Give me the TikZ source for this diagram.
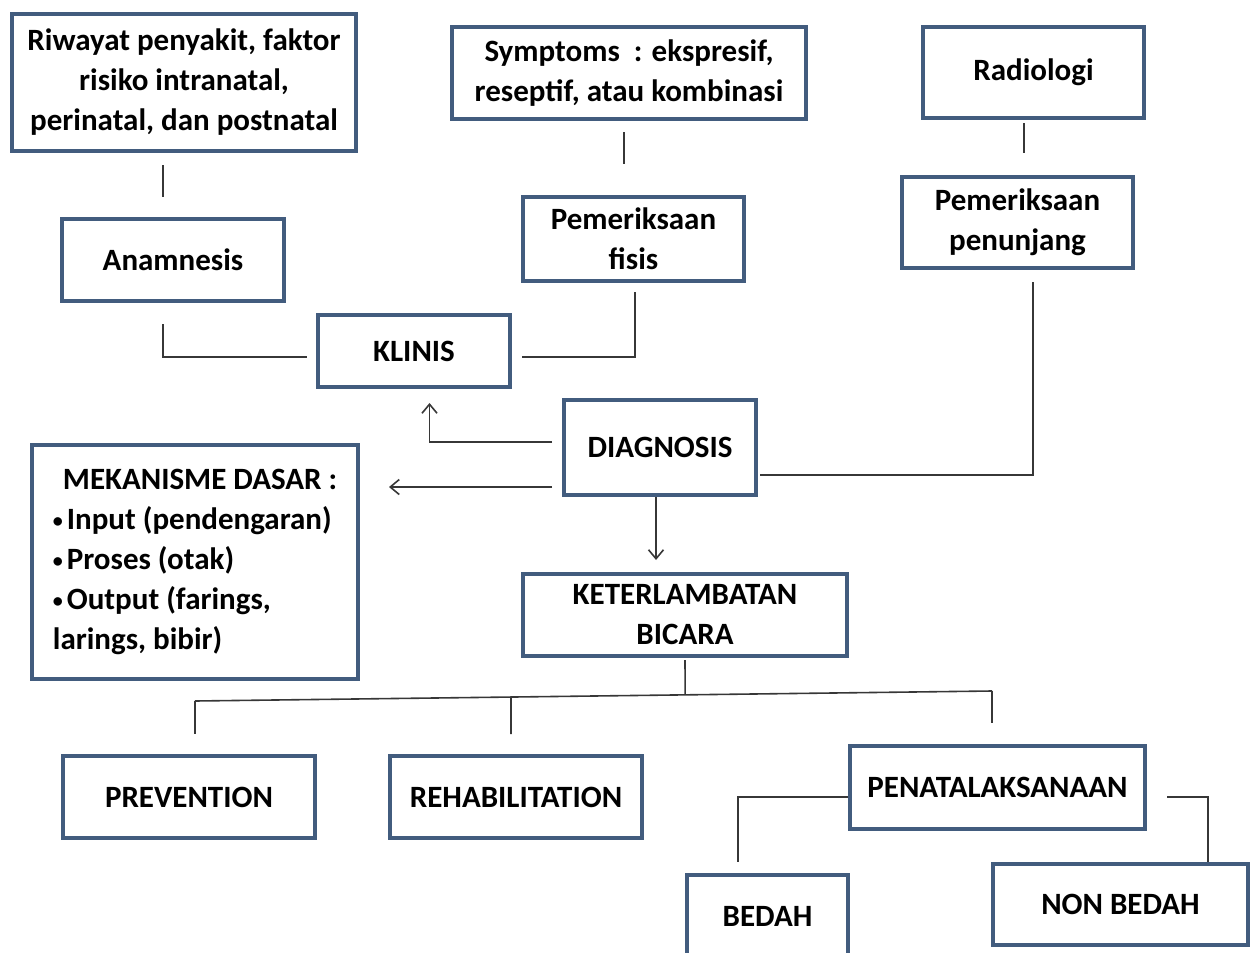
\documentclass[tikz,border=0pt]{standalone}
\usepackage{fontspec}
\setmainfont{Carlito}
\usetikzlibrary{arrows.meta,calc}
\definecolor{kotakbiru}{RGB}{66,92,126}
\definecolor{garisabu}{RGB}{55,55,55}
\newcommand{\titik}{{\fontsize{20}{40}\selectfont\raisebox{2pt}{•}}\hspace{4pt}}
\tikzset{
  kotak/.style={draw=kotakbiru, line width=4pt, fill=white, align=center, inner sep=4pt,
    font=\fontsize{31}{40}\selectfont\bfseries},
  garis/.style={draw=garisabu, line width=1.6pt},
  panah/.style={garis, -{Straight Barb[length=9pt,width=15pt]}}
}
\begin{document}
\begin{tikzpicture}[x=1pt, y=-1pt]
            \useasboundingbox (0,0) rectangle (1253,953);

            \node[kotak, minimum width=344pt, minimum height=137pt] (riwayat) at (184,82.5) {Riwayat penyakit, faktor\\risiko intranatal,\\perinatal, dan postnatal};
            \node[kotak, minimum width=354pt, minimum height=92pt] (symptoms) at (629,73) {Symptoms\ \ : ekspresif,\\reseptif, atau kombinasi};
            \node[kotak, minimum width=221pt, minimum height=91pt] (radiologi) at (1033.5,72.5) {Radiologi};

            \node[kotak, minimum width=222pt, minimum height=82pt] (anamnesis) at (173,260) {Anamnesis};
            \node[kotak, minimum width=221pt, minimum height=84pt] (fisis) at (633.5,239) {Pemeriksaan\\fisis};
            \node[kotak, minimum width=231pt, minimum height=91pt] (penunjang) at (1017.5,222.5) {Pemeriksaan\\penunjang};

            \node[kotak, minimum width=192pt, minimum height=72pt] (klinis) at (414,351) {KLINIS};
            \node[kotak, minimum width=192pt, minimum height=95pt] (diagnosis) at (660,447.5) {DIAGNOSIS};
            \node[kotak, align=left, minimum width=326pt, minimum height=234pt] (mekanisme) at (195,562) {\hspace*{10pt}MEKANISME DASAR :\\\titik Input (pendengaran)\\\titik Proses (otak)\\\titik Output (farings,\\larings, bibir)};
            \node[kotak, minimum width=324pt, minimum height=82pt] (keterlambatan) at (685,615) {KETERLAMBATAN\\BICARA};

            \node[kotak, minimum width=252pt, minimum height=82pt] (prevention) at (189,797) {PREVENTION};
            \node[kotak, minimum width=252pt, minimum height=82pt] (rehabilitation) at (516,797) {REHABILITATION};
            \node[kotak, minimum width=295pt, minimum height=83pt] (penatalaksanaan) at (997.5,787.5) {PENATALAKSANAAN};
            \node[kotak, minimum width=161pt, minimum height=83pt] (bedah) at (767.5,916.5) {BEDAH};
            \node[kotak, minimum width=255pt, minimum height=81pt] (nonbedah) at (1120.5,904.5) {NON BEDAH};

            % garis atas
            \draw[garis, shorten <=12pt, shorten >=20pt] ([xshift=-21pt]riwayat.south) -- ([xshift=-10pt]anamnesis.north);
            \draw[garis, shorten <=11pt, shorten >=31pt] ([xshift=-5pt]symptoms.south) -- ([xshift=-9.5pt]fisis.north);
            \draw[garis, shorten <=3pt, shorten >=22pt] ([xshift=-9.5pt]radiologi.south) -- ([xshift=6.5pt]penunjang.north);

            \draw[garis] ([xshift=-10pt,yshift=-21pt]anamnesis.south) |- ([xshift=-9pt,yshift=-6pt]klinis.west);
            \draw[garis] ([xshift=1.5pt,yshift=-9pt]fisis.south) |- ([xshift=10pt,yshift=-6pt]klinis.east);
            \draw[garis] ([xshift=15.5pt,yshift=-12pt]penunjang.south) |- ([xshift=2pt,yshift=-27.5pt]diagnosis.east);

            % panah dari diagnosis
            \draw[panah] ([xshift=-10pt,yshift=5.5pt]diagnosis.west) -| ([xshift=15.5pt,yshift=-14pt]klinis.south);
            \coordinate (dkiri) at ([xshift=-10pt,yshift=-39.5pt]diagnosis.west);
            \draw[panah, shorten >=29pt] (dkiri) -- (dkiri -| mekanisme.east);
            \draw[panah, shorten >=12pt] ([xshift=-4pt]diagnosis.south) -- ([xshift=-4pt]diagnosis.south |- keterlambatan.north);

            % cabang bawah
            \coordinate (cabangkiri) at (195,701);
            \coordinate (cabangkanan) at (992,691);
            \coordinate (cabangrehab) at ($(cabangkiri)!0.3965!(cabangkanan)$);
            \draw[garis] ([yshift=-2pt]keterlambatan.south) -- ($(cabangkiri)!0.615!(cabangkanan)$);
            \draw[garis] (cabangkiri) -- (cabangkanan);
            \draw[garis] (cabangkiri) -- ([xshift=6pt,yshift=20pt]prevention.north);
            \draw[garis] (cabangrehab) -- ([xshift=-5pt,yshift=20pt]rehabilitation.north);
            \draw[garis] (cabangkanan) -- ([xshift=-5.5pt,yshift=21pt]penatalaksanaan.north);

            \draw[garis] ([yshift=-9.5pt]penatalaksanaan.west) -| ([xshift=-29.5pt,yshift=11pt]bedah.north);
            \draw[garis] ([xshift=20pt,yshift=-9.5pt]penatalaksanaan.east) -| ([xshift=87.5pt]nonbedah.north);
        \end{tikzpicture}
\end{document}
